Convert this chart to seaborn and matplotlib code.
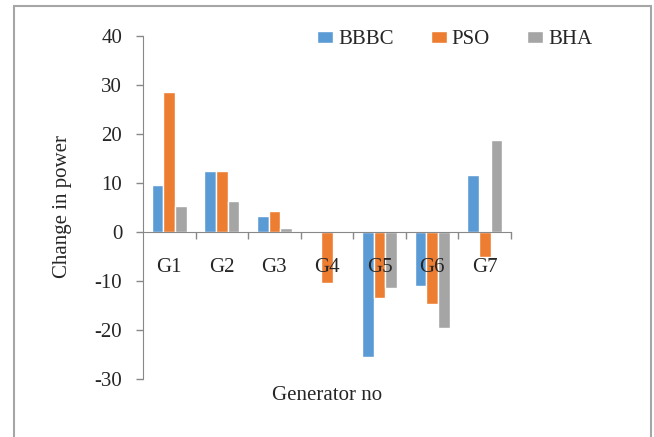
import matplotlib
matplotlib.use("Agg")
import matplotlib.pyplot as plt
import seaborn as sns
import pandas as pd
from matplotlib.patches import Rectangle

categories = ["G1", "G2", "G3", "G4", "G5", "G6", "G7"]
series_names = ["BBBC", "PSO", "BHA"]
bbbc = [9.6, 12.4, 3.3, 0.1, -25.6, -11.0, 11.7]
pso = [28.5, 12.4, 4.3, -10.4, -13.5, -14.6, -5.2]
bha = [5.4, 6.4, 0.75, 0.3, -11.5, -19.5, 18.7]
yticks = [-30, -20, -10, 0, 10, 20, 30, 40]
ytick_labels = ["-30", "-20", "-10", "0", "10", "20", "30", "40"]
colors = ["#5B9BD5", "#ED7D31", "#A5A5A5"]

rows = []
for name, vals in zip(series_names, [bbbc, pso, bha]):
    for c, v in zip(categories, vals):
        rows.append({"Generator": c, "Series": name, "Value": v})
df = pd.DataFrame(rows)

sns.set_style("white")
plt.rcParams["font.family"] = ["Liberation Serif", "DejaVu Serif"]
plt.rcParams["axes.unicode_minus"] = False

fig = plt.figure(figsize=(6.54, 4.37), dpi=100)
ax = fig.add_axes([143/654, 1-379/437, 368/654, 343/437])

sns.barplot(data=df, x="Generator", y="Value", hue="Series", order=categories,
            hue_order=series_names, palette=colors, width=0.665, ax=ax,
            saturation=1, errorbar=None, legend=True)

ax.set_axisbelow(False)
ax.set_ylim(-30, 40)
ax.set_xlim(-0.5, 6.5)
ax.set_yticks(yticks)
ax.set_yticklabels(ytick_labels, fontsize=15)
ax.tick_params(axis="y", length=5, width=1, color="#888888", direction="out", pad=10, left=True)

for s in ["top", "right"]:
    ax.spines[s].set_visible(False)
ax.spines["left"].set_color("#888888")
ax.spines["bottom"].set_position(("data", 0))
ax.spines["bottom"].set_color("#888888")

ax.set_xticks(range(len(categories)))
ax.set_xticklabels(categories, fontsize=15)
ax.tick_params(axis="x", length=0, pad=19)
ax.set_xticks([i + 0.5 for i in range(len(categories))], minor=True)
ax.tick_params(axis="x", which="minor", length=5, width=1, color="#888888", direction="out", bottom=True)

ax.set_xlabel("")
ax.set_ylabel("")
fig.text(63/654, 1-207/437, "Change in power", rotation=90, ha="center", va="center", fontsize=15)
fig.text(327/654, 1-396/437, "Generator no", ha="center", va="center", fontsize=15)

handles, labels = ax.get_legend_handles_labels()
ax.legend(handles, labels, loc="upper left", bbox_to_anchor=(0.473, 1.017), ncol=3,
          frameon=False, fontsize=15, handlelength=0.75, handleheight=0.55,
          handletextpad=0.25, columnspacing=1.8, borderpad=0, borderaxespad=0)

fig.patches.append(Rectangle((14/654, -0.1), 637/654, 1.1 - 6/437, transform=fig.transFigure,
                             fill=False, edgecolor="#a6a6a6", linewidth=1.5))

fig.savefig("out.png", dpi=100)
